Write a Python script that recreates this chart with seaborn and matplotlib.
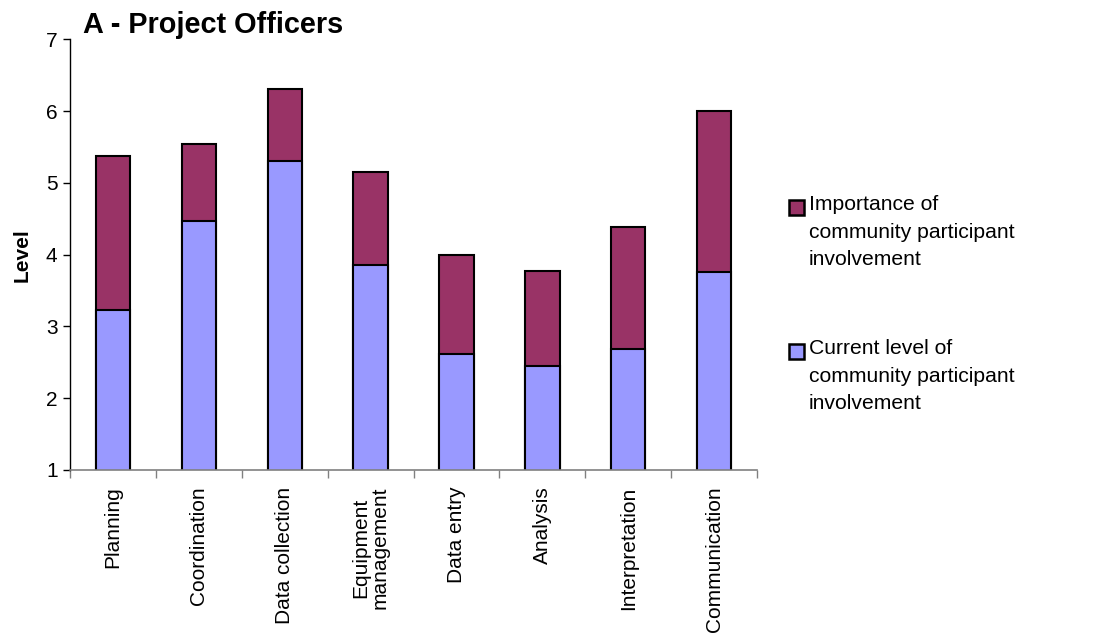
import numpy as np
import pandas as pd
import seaborn as sns
import matplotlib.pyplot as plt
from matplotlib.patches import Patch
from matplotlib.ticker import FixedLocator

# values (stack totals and lower segment)
categories = ['Planning', 'Coordination', 'Data collection', 'Equipment\nmanagement',
              'Data entry', 'Analysis', 'Interpretation', 'Communication']
current_level = [3.23, 4.47, 5.30, 3.85, 2.61, 2.45, 2.69, 3.76]
importance_total = [5.38, 5.54, 6.31, 5.15, 4.00, 3.77, 4.38, 6.00]
yticks = [1, 2, 3, 4, 5, 6, 7]

lab_imp = 'Importance of\ncommunity participant\ninvolvement'
lab_cur = 'Current level of\ncommunity participant\ninvolvement'
c_imp = '#993366'
c_cur = '#9999FF'

sns.set_style('white')
plt.rcParams['font.family'] = ['Liberation Sans', 'DejaVu Sans']
plt.rcParams['text.color'] = 'black'
plt.rcParams['axes.labelcolor'] = 'black'

df = pd.DataFrame({'cat': categories, 'cur': current_level, 'tot': importance_total})

fig = plt.figure(figsize=(10.94, 6.39), dpi=100)
ax = fig.add_axes([0.064, 0.2645, 0.628, 0.674])

sns.barplot(data=df, x='cat', y='tot', color=c_imp, width=0.4, saturation=1,
            edgecolor='black', linewidth=1.5, ax=ax)
sns.barplot(data=df, x='cat', y='cur', color=c_cur, width=0.4, saturation=1,
            edgecolor='black', linewidth=1.5, ax=ax)

ax.set_ylim(1, 7)
ax.set_xlim(-0.5, len(categories) - 0.5)
ax.set_yticks(yticks)
ax.set_xlabel('')
ax.set_ylabel('Level', fontsize=15, fontweight='bold', labelpad=10)

ax.tick_params(axis='y', left=True, labelsize=15, length=5, width=1, color='black',
               labelcolor='black', direction='out', pad=4)
ax.tick_params(axis='x', which='major', labelsize=15, length=0, pad=12, labelcolor='black')
ax.set_xticks(range(len(categories)))
ax.set_xticklabels(categories, rotation=90, va='top', ha='center', linespacing=1.0)
ax.xaxis.set_minor_locator(FixedLocator(np.arange(-0.5, len(categories), 1.0)))
ax.tick_params(axis='x', which='minor', bottom=True, length=6, width=1, color='#808080',
               direction='out')

for s in ['top', 'right']:
    ax.spines[s].set_visible(False)
ax.spines['left'].set_color('black')
ax.spines['bottom'].set_color('#808080')
ax.spines['left'].set_linewidth(1)
ax.spines['bottom'].set_linewidth(1.2)

fig.text(0.076, 0.948, 'A - Project Officers', fontsize=20.8, fontweight='bold', va='baseline')

handles = [Patch(facecolor=c_imp, edgecolor='black', linewidth=1.8, label=lab_imp),
           Patch(facecolor=c_cur, edgecolor='black', linewidth=1.8, label=lab_cur)]
leg = fig.legend(handles=handles, loc='upper left', bbox_to_anchor=(0.721, 0.695), frameon=False,
                 fontsize=15.2, handlelength=0.7, handleheight=0.7, handletextpad=0.25,
                 labelspacing=3.3, borderaxespad=0, borderpad=0)
for t in leg.get_texts():
    t.set_linespacing(1.58)

# move legend boxes up to the first line of each label
fig.canvas.draw()
for t, p in zip(leg.get_texts(), leg.get_patches()):
    tb = t.get_window_extent()
    pb = p.get_window_extent()
    first_mid = tb.y1 - tb.height / 3 / 2
    p.set_y(p.get_y() + (first_mid - (pb.y0 + pb.y1) / 2) * 72 / fig.dpi)

fig.savefig('out.png', dpi=100)
